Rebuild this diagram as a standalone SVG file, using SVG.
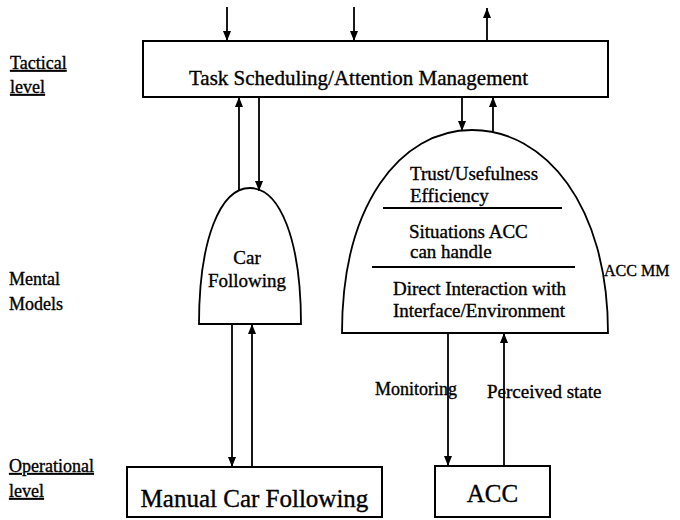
<svg xmlns="http://www.w3.org/2000/svg" width="680" height="520" viewBox="0 0 680 520">
<style>
  text { font-family: "Liberation Serif", "Times New Roman", serif; fill: #000; stroke: #000; stroke-width: 0.35; }
  .box { fill: #fff; stroke: #000; stroke-width: 2; }
  .shape { fill: #fff; stroke: #000; stroke-width: 1.8; }
  .conn { stroke: #000; stroke-width: 1.8; fill: none; marker-end: url(#arr); }
  .sep { stroke: #000; stroke-width: 1.8; }
  .lbl { font-size: 18px; }
  .ul { text-decoration: underline; }
  .in { font-size: 19px; }
  .big { font-size: 25px; }
</style>
<defs>
  <marker id="arr" viewBox="0 0 10 8" refX="10" refY="4" markerWidth="10" markerHeight="8" markerUnits="userSpaceOnUse" orient="auto">
    <path d="M0,0 L10,4 L0,8 z" fill="#000"/>
  </marker>
</defs>
<rect width="680" height="520" fill="#fff"/>

<g id="level-labels">
  <text class="lbl ul" x="10" y="69">Tactical</text>
  <text class="lbl ul" x="10" y="93">level</text>
  <text class="lbl" x="9" y="285">Mental</text>
  <text class="lbl" x="9" y="310">Models</text>
  <text class="lbl ul" x="9" y="472">Operational</text>
  <text class="lbl ul" x="9" y="497">level</text>
</g>

<g id="task-scheduling">
  <rect class="box" x="143" y="41" width="465" height="56"/>
  <text x="189" y="85" font-size="21">Task Scheduling/Attention Management</text>
</g>

<g id="car-following-mm">
  <path class="shape" d="M199,324 C199,240 220,188 250,188 C280,188 301,240 301,324 Z"/>
  <text class="in" x="247" y="264" text-anchor="middle">Car</text>
  <text class="in" x="247" y="287" text-anchor="middle">Following</text>
</g>

<g id="acc-mm">
  <path class="shape" d="M342,333 C342,205 400,130 472,130 C545,130 608,205 608,333 Z"/>
  <text class="in" x="410" y="180">Trust/Usefulness</text>
  <text class="in" x="410" y="202">Efficiency</text>
  <line class="sep" x1="383" y1="208" x2="562" y2="208"/>
  <text class="in" x="409" y="238">Situations ACC</text>
  <text class="in" x="410" y="258">can handle</text>
  <line class="sep" x1="372" y1="267" x2="575" y2="267"/>
  <text class="in" x="393" y="295">Direct Interaction with</text>
  <text class="in" x="393" y="317">Interface/Environment</text>
  <text x="604" y="276" font-size="16">ACC MM</text>
</g>

<g id="manual-car-following">
  <rect class="box" x="127" y="467" width="255" height="50"/>
  <text class="big" x="254.5" y="507" text-anchor="middle">Manual Car Following</text>
</g>

<g id="acc">
  <rect class="box" x="435" y="466" width="115" height="51"/>
  <text class="big" x="492.5" y="502" text-anchor="middle">ACC</text>
</g>

<g id="connectors">
  <line class="conn" x1="227" y1="7" x2="227" y2="41"/>
  <line class="conn" x1="354" y1="7" x2="354" y2="41"/>
  <line class="conn" x1="487" y1="41" x2="487" y2="8"/>
  <line class="conn" x1="239" y1="190" x2="239" y2="97"/>
  <line class="conn" x1="259" y1="97" x2="259" y2="191"/>
  <line class="conn" x1="232" y1="324" x2="232" y2="467"/>
  <line class="conn" x1="252" y1="467" x2="252" y2="324"/>
  <line class="conn" x1="462" y1="97" x2="462" y2="131"/>
  <line class="conn" x1="493" y1="132" x2="493" y2="97"/>
  <line class="conn" x1="448" y1="333" x2="448" y2="466"/>
  <line class="conn" x1="504" y1="466" x2="504" y2="333"/>
  <text x="375" y="395" font-size="18">Monitoring</text>
  <text x="487" y="398" font-size="19">Perceived state</text>
</g>
</svg>
